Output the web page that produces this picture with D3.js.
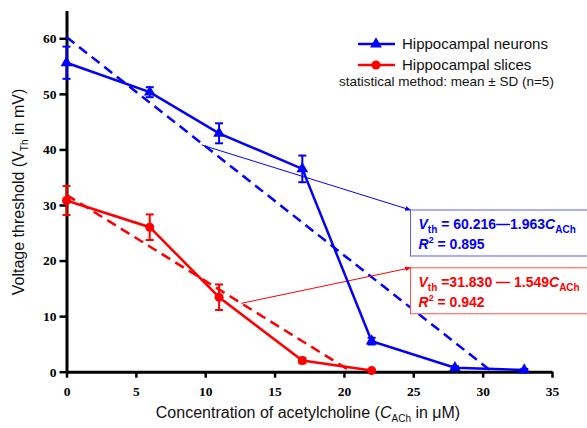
<!DOCTYPE html>
<html>
<head>
<meta charset="utf-8">
<script src="https://cdn.jsdelivr.net/npm/d3@7"></script>
<style>
  body { margin: 0; background: #fff; }
  svg { display: block; }
</style>
</head>
<body>
<svg id="chart"></svg>
<script>
// values
const neuronConc = [0, 6, 11, 17, 22, 28, 33]
const neuronMean = [55.6, 50.3, 42.9, 36.5, 5.5, 0.7, 0.3]
const neuronSD = [2.9, 0.9, 1.8, 2.4, 0.6, 0.3, 0.2]

const sliceConc = [0, 6, 11, 17, 22]
const sliceMean = [30.8, 26.0, 13.4, 2.0, 0.2]
const sliceSD = [2.6, 2.3, 2.3, 0.5, 0.2]

// linear fits: Vth = a - b*C
const neuronFit = [60.216, 1.963]
const sliceFit = [31.830, 1.549]

const xTicks = [0, 5, 10, 15, 20, 25, 30, 35]
const yTicks = [0, 10, 20, 30, 40, 50, 60]

const WIDTH = 587
const HEIGHT = 428
const BLUE = '#0000ff'
const RED = '#ff0000'

const x = d3.scaleLinear().domain([0, 35]).range([66.5, 552])
const y = d3.scaleLinear().domain([0, 65]).range([371.7, 10.5])

const svg = d3.select('#chart').attr('width', WIDTH).attr('height', HEIGHT)

// axes
const xAxis = svg.append('g')
  .attr('transform', `translate(0,${y(0)})`)
  .call(d3.axisBottom(x).tickValues(xTicks).tickSize(6).tickSizeOuter(0))
const yAxis = svg.append('g')
  .attr('transform', `translate(${x(0)},0)`)
  .call(d3.axisLeft(y).tickValues(yTicks).tickSize(7).tickSizeOuter(0))

for (const ax of [xAxis, yAxis]) {
  ax.select('.domain').attr('stroke', '#000').attr('stroke-width', 3)
  ax.selectAll('.tick line').attr('stroke', '#000').attr('stroke-width', 2.5)
  ax.selectAll('.tick text')
    .attr('font-family', 'Liberation Serif, Times New Roman, serif')
    .attr('font-weight', 'bold').attr('font-size', 13.5).attr('fill', '#000')
}
xAxis.selectAll('.tick text').attr('dy', '1.1em')
yAxis.selectAll('.tick text').attr('x', -10)

// axis titles
const yTitle = svg.append('text')
  .attr('transform', `translate(24,${192}) rotate(-90)`)
  .attr('text-anchor', 'middle')
  .attr('font-family', 'Liberation Sans, Arial, sans-serif')
  .attr('font-size', 16).attr('fill', '#111')
yTitle.append('tspan').text('Voltage threshold (V')
yTitle.append('tspan').attr('font-size', 10).attr('dy', 4).text('Th')
yTitle.append('tspan').attr('dy', -4).text(' in mV)')

const xTitle = svg.append('text')
  .attr('x', 308).attr('y', 418)
  .attr('text-anchor', 'middle')
  .attr('font-family', 'Liberation Sans, Arial, sans-serif')
  .attr('font-size', 16).attr('fill', '#111')
xTitle.append('tspan').text('Concentration of acetylcholine (')
xTitle.append('tspan').attr('font-style', 'italic').text('C')
xTitle.append('tspan').attr('font-size', 10).attr('dy', 4).text('ACh')
xTitle.append('tspan').attr('dy', -4).text(' in μM)')

// fit lines (dashed)
function fitLine(fit, color) {
  const xEnd = fit[0] / fit[1]
  svg.append('line')
    .attr('x1', x(0)).attr('y1', y(fit[0]))
    .attr('x2', x(xEnd)).attr('y2', y(0))
    .attr('stroke', color).attr('stroke-width', 2.5)
    .attr('stroke-dasharray', '10,6')
}
fitLine(neuronFit, BLUE)
fitLine(sliceFit, RED)

// annotation arrows and boxes
svg.append('defs').selectAll('marker')
  .data([['arrBlue', BLUE], ['arrRed', RED]])
  .enter().append('marker')
  .attr('id', d => d[0])
  .attr('viewBox', '0 0 10 10').attr('refX', 9).attr('refY', 5)
  .attr('markerWidth', 6).attr('markerHeight', 6).attr('orient', 'auto')
  .append('path').attr('d', 'M0,1L10,5L0,9Z').attr('fill', d => d[1])

const notes = [
  { from: [9.75, 40.8], box: [24.8, 29.1], color: BLUE, stroke: '#5a5aff',
    a: '60.216', b: '1.963', r2: '0.895', sep: ' = ', mid: '\u2014' },
  { from: [12.6, 12.3], box: [24.8, 18.7], color: RED, stroke: '#ff5050',
    a: '31.830', b: '1.549', r2: '0.942', sep: ' =', mid: ' \u2014 ' }
]

for (const n of notes) {
  const bx = x(n.box[0]), by = y(n.box[1])
  svg.append('line')
    .attr('x1', x(n.from[0])).attr('y1', y(n.from[1]))
    .attr('x2', bx).attr('y2', by)
    .attr('stroke', n.color).attr('stroke-width', 1)
    .attr('marker-end', `url(#${n.color === BLUE ? 'arrBlue' : 'arrRed'})`)
  svg.append('rect')
    .attr('x', bx).attr('y', by).attr('width', 185).attr('height', 46)
    .attr('fill', '#fff').attr('stroke', n.stroke).attr('stroke-width', 1)
  const t = svg.append('text')
    .attr('x', bx + 8).attr('y', by + 19)
    .attr('font-family', 'Liberation Sans, Arial, sans-serif')
    .attr('font-weight', 'bold').attr('font-size', 14).attr('fill', n.color)
  t.append('tspan').attr('font-style', 'italic').text('V')
  t.append('tspan').attr('font-size', 10).attr('dy', 4).text('th')
  t.append('tspan').attr('dy', -4).text(n.sep + n.a + n.mid + n.b)
  t.append('tspan').attr('font-style', 'italic').text('C')
  t.append('tspan').attr('font-size', 10).attr('dy', 4).text('ACh')
  const t2 = svg.append('text')
    .attr('x', bx + 8).attr('y', by + 39)
    .attr('font-family', 'Liberation Sans, Arial, sans-serif')
    .attr('font-weight', 'bold').attr('font-size', 14).attr('fill', n.color)
  t2.append('tspan').attr('font-style', 'italic').text('R')
  t2.append('tspan').attr('font-size', 9).attr('dy', -6).text('2')
  t2.append('tspan').attr('dy', 6).text(' = ' + n.r2)
}

// data series
const line = d3.line().x(d => x(d.c)).y(d => y(d.m))
const triangle = d3.symbol().type(d3.symbolTriangle).size(60)

function series(conc, mean, sd, color, marker) {
  const data = conc.map((c, i) => ({ c: c, m: mean[i], s: sd[i] }))
  const g = svg.append('g')
  g.append('path').datum(data).attr('d', line)
    .attr('fill', 'none').attr('stroke', color).attr('stroke-width', 2.5)
  const eb = g.selectAll('.eb').data(data).enter().append('g')
    .attr('stroke', color).attr('stroke-width', 2)
  eb.append('line')
    .attr('x1', d => x(d.c)).attr('x2', d => x(d.c))
    .attr('y1', d => y(d.m + d.s)).attr('y2', d => y(d.m - d.s))
  for (const sign of [1, -1]) {
    eb.append('line')
      .attr('x1', d => x(d.c) - 4).attr('x2', d => x(d.c) + 4)
      .attr('y1', d => y(d.m + sign * d.s)).attr('y2', d => y(d.m + sign * d.s))
  }
  if (marker === 'triangle') {
    g.selectAll('.mk').data(data).enter().append('path')
      .attr('d', triangle)
      .attr('transform', d => `translate(${x(d.c)},${y(d.m)})`)
      .attr('fill', color)
  } else {
    g.selectAll('.mk').data(data).enter().append('circle')
      .attr('cx', d => x(d.c)).attr('cy', d => y(d.m)).attr('r', 4.5)
      .attr('fill', color)
  }
}
series(sliceConc, sliceMean, sliceSD, RED, 'circle')
series(neuronConc, neuronMean, neuronSD, BLUE, 'triangle')

// legend
const legend = svg.append('g').attr('font-family', 'Liberation Sans, Arial, sans-serif')
const legendItems = [
  { label: 'Hippocampal neurons', color: BLUE, marker: 'triangle', ly: 44 },
  { label: 'Hippocampal slices', color: RED, marker: 'circle', ly: 65 }
]
for (const it of legendItems) {
  legend.append('line').attr('x1', 358).attr('x2', 395).attr('y1', it.ly).attr('y2', it.ly)
    .attr('stroke', it.color).attr('stroke-width', 2.5)
  if (it.marker === 'triangle') {
    legend.append('path').attr('d', triangle).attr('transform', `translate(376,${it.ly})`).attr('fill', it.color)
  } else {
    legend.append('circle').attr('cx', 376).attr('cy', it.ly).attr('r', 4.5).attr('fill', it.color)
  }
  legend.append('text').attr('x', 402).attr('y', it.ly + 5)
    .attr('font-size', 15).attr('fill', '#111').text(it.label)
}
legend.append('text').attr('x', 339).attr('y', 86)
  .attr('font-size', 13.5).attr('fill', '#111')
  .text('statistical method: mean \u00b1 SD (n=5)')
</script>
</body>
</html>
